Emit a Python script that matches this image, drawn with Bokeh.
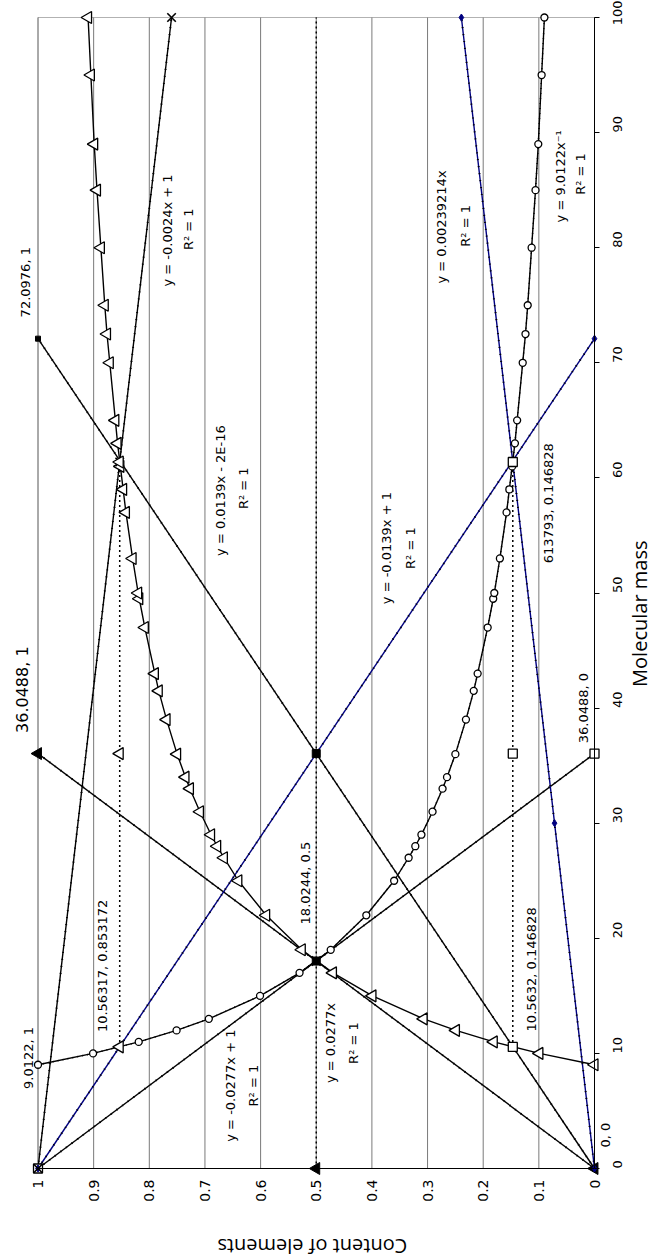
import math
from bokeh.plotting import figure
from bokeh.models import Range1d, FixedTicker, Label, LinearAxis, BoxAnnotation
from bokeh.embed import file_html
from bokeh.resources import INLINE

# ---------------- data (original chart: x = molecular mass, y = content) ----------------
mass_curve = [9.0122, 10, 11, 12, 13, 15, 17, 19, 22, 25, 27, 28, 29, 31, 33, 34, 36, 39,
              41.5, 43, 47, 49.5, 50, 53, 57, 59, 61, 63, 65, 70, 72.5, 75, 80, 85, 89, 95, 100]
content_circles = [1.0, 0.901, 0.819, 0.751, 0.693, 0.601, 0.530, 0.474, 0.410, 0.360, 0.334,
                   0.322, 0.311, 0.291, 0.273, 0.265, 0.250, 0.231, 0.217, 0.210, 0.192, 0.182,
                   0.180, 0.170, 0.158, 0.153, 0.148, 0.143, 0.139, 0.129, 0.124, 0.120, 0.113,
                   0.106, 0.101, 0.095, 0.090]
content_triangles = [0.0, 0.099, 0.181, 0.249, 0.307, 0.399, 0.470, 0.526, 0.590, 0.640, 0.666,
                     0.678, 0.689, 0.709, 0.727, 0.735, 0.750, 0.769, 0.783, 0.790, 0.808, 0.818,
                     0.820, 0.830, 0.842, 0.847, 0.852, 0.857, 0.861, 0.871, 0.876, 0.880, 0.887,
                     0.894, 0.899, 0.905, 0.910]

l0277_up_mass = [0, 36.0488]
l0277_up_c = [0, 1]
l0277_dn_mass = [0, 36.0488]
l0277_dn_c = [1, 0]
l0139_up_mass = [0, 72.0976]
l0139_up_c = [0, 1]
l0139_dn_mass = [0, 72.0976]
l0139_dn_c = [1, 0]
l0024_dn_mass = [0, 61.3793, 100]
l0024_dn_c = [1, 0.853172, 0.76]
l0024_up_mass = [0, 30, 100]
l0024_up_c = [0, 0.0718, 0.2392]
half_mass = [0, 18.0244, 36.0488, 100]
half_c = [0.5, 0.5, 0.5, 0.5]
upper_mass = [10.56317, 36.0488, 61.3793]
upper_c = [0.853172, 0.853172, 0.853172]
lower_mass = [10.5632, 36.0488, 61.3793]
lower_c = [0.146828, 0.146828, 0.146828]

content_ticks = [0, 0.1, 0.2, 0.3, 0.4, 0.5, 0.6, 0.7, 0.8, 0.9, 1]
mass_ticks = [0, 10, 20, 30, 40, 50, 60, 70, 80, 90, 100]

BLACK = "black"
NAVY = "#000080"
FONT = "DejaVu Sans"
TITLE_FONT = "Open Sans"

# ---------------- layout (chart rotated 90 deg counter-clockwise) ----------------
W, H = 653, 1259
# plot area in canvas pixels: content 1 -> 37.5, content 0 -> 594 ; mass 100 -> 17, mass 0 -> 1168
PX_C = 556.5          # pixels per unit content
PX_M = 11.51          # pixels per unit mass
c_left = 1 + 37.5 / PX_C
c_right = c_left - W / PX_C
m_top = 100 + 17 / PX_M
m_bot = m_top - H / PX_M

p = figure(width=W, height=H, x_range=Range1d(c_left, c_right), y_range=Range1d(m_bot, m_top),
           x_axis_location=None, y_axis_location=None, title=None,
           output_backend="svg", toolbar_location=None,
           min_border=0, min_border_left=0, min_border_right=0,
           min_border_top=0, min_border_bottom=0)
p.background_fill_color = "white"
p.border_fill_color = "white"
p.outline_line_color = None
p.xgrid.grid_line_color = None
p.ygrid.grid_line_color = None

# grid lines (original horizontal grid) within the plot area
p.segment(x0=content_ticks, y0=[0] * len(content_ticks), x1=content_ticks,
          y1=[100] * len(content_ticks), line_color="#7a7a7a", line_width=1)

# plot-area border
p.add_layout(BoxAnnotation(left=1, right=0, bottom=0, top=100, fill_alpha=0,
                           line_color=BLACK, line_width=1, level="underlay"))

xa = LinearAxis(fixed_location=0, bounds=(0, 1), ticker=FixedTicker(ticks=content_ticks))
xa.major_label_overrides = {0: "0", 1: "1"}
xa.major_label_orientation = math.pi / 2
xa.major_tick_out = 0
xa.major_tick_in = 0
xa.minor_tick_line_color = None
xa.axis_line_color = BLACK
xa.major_label_standoff = 11
xa.major_label_text_font = FONT
xa.major_label_text_font_size = "14px"
xa.major_label_text_color = BLACK
p.add_layout(xa, "below")

ya = LinearAxis(fixed_location=0, bounds=(0, 100), ticker=FixedTicker(ticks=mass_ticks))
ya.major_label_orientation = math.pi / 2
ya.major_tick_out = 5
ya.major_tick_in = 0
ya.major_tick_line_color = BLACK
ya.minor_tick_line_color = None
ya.axis_line_color = BLACK
ya.major_label_standoff = 18
ya.major_label_text_font = FONT
ya.major_label_text_font_size = "13px"
ya.major_label_text_color = BLACK
p.add_layout(ya, "right")


def trend(xs, ys, color=BLACK):
    p.line(xs, ys, line_color=color, line_width=1.4)
    p.line(xs, ys, line_color=BLACK, line_width=2, line_dash="1 6")


# straight lines
trend(l0277_up_c, l0277_up_mass)
trend(l0277_dn_c, l0277_dn_mass)
trend(l0139_up_c, l0139_up_mass)
trend(l0139_dn_c, l0139_dn_mass, NAVY)
trend(l0024_dn_c, l0024_dn_mass)
trend(l0024_up_c, l0024_up_mass, NAVY)

# dotted horizontal (original) lines
for cs, ms in ((half_c, half_mass), (upper_c, upper_mass), (lower_c, lower_mass)):
    p.line(cs, ms, line_color=BLACK, line_width=1.5, line_dash="2 3")

# curves
p.line(content_circles, mass_curve, line_color=BLACK, line_width=1.4)
p.line(content_circles, mass_curve, line_color=BLACK, line_width=1.5, line_dash="1 4")
p.line(content_triangles, mass_curve, line_color=BLACK, line_width=1.4)

# markers
p.scatter(content_circles, mass_curve, marker="circle", size=7, fill_color="white",
          line_color=BLACK, line_width=1.3)
p.scatter(content_triangles, mass_curve, marker="triangle", angle=math.pi / 2, size=12,
          fill_color="white", line_color=BLACK, line_width=1.3)
p.scatter(l0277_up_c, l0277_up_mass, marker="triangle", angle=math.pi / 2, size=12,
          fill_color=BLACK, line_color=BLACK)
p.scatter(l0277_dn_c, l0277_dn_mass, marker="square", size=9, fill_color="white",
          line_color=BLACK, line_width=1.3)
p.scatter(l0139_up_c, l0139_up_mass, marker="square", size=5, fill_color=BLACK, line_color=BLACK)
p.scatter(l0139_dn_c, l0139_dn_mass, marker="diamond", size=7, fill_color=NAVY, line_color=NAVY)
p.scatter(l0024_up_c, l0024_up_mass, marker="diamond", size=7, fill_color=NAVY, line_color=NAVY)
p.scatter(l0024_dn_c, l0024_dn_mass, marker="x", size=12, line_color=BLACK, line_width=1.6)
p.scatter(half_c[:1], half_mass[:1], marker="triangle", angle=math.pi / 2, size=12,
          fill_color=BLACK, line_color=BLACK)
p.scatter(half_c[1:3], half_mass[1:3], marker="square", size=8, fill_color=BLACK, line_color=BLACK)
p.scatter(half_c[1:2], half_mass[1:2], marker="x", size=13, line_color=BLACK, line_width=2)
p.scatter(upper_c, upper_mass, marker="triangle", angle=math.pi / 2, size=12,
          fill_color="white", line_color=BLACK, line_width=1.3)
p.scatter(lower_c, lower_mass, marker="square", size=9, fill_color="white",
          line_color=BLACK, line_width=1.3)

# ---------------- texts ----------------
labels = [
    ("9.0122, 1", 1.017, 9.6, 13),
    ("10.56317, 0.853172", 0.884, 17.6, 13),
    ("18.0244, 0.5", 0.519, 24.8, 13),
    ("y = 0.0277x", 0.474, 10.9, 13),
    ("R\u00b2 = 1", 0.433, 10.9, 13),
    ("y = -0.0277x + 1", 0.654, 7.2, 13),
    ("R\u00b2 = 1", 0.613, 7.2, 13),
    ("10.5632, 0.146828", 0.113, 17.3, 13),
    ("36.0488, 0", 0.020, 40.0, 13),
    ("0, 0", -0.0197, 2.9, 13),
    ("36.0488, 1", 1.028, 41.6, 16),
    ("y = 0.0139x - 2E-16", 0.672, 58.9, 13),
    ("R\u00b2 = 1", 0.631, 59.1, 13),
    ("72.0976, 1", 1.022, 77.0, 13),
    ("y = -0.0024x + 1", 0.767, 81.5, 13),
    ("R\u00b2 = 1", 0.730, 81.6, 13),
    ("y = -0.0139x + 1", 0.374, 53.9, 13),
    ("R\u00b2 = 1", 0.331, 53.9, 13),
    ("613793, 0.146828", 0.083, 57.8, 13),
    ("y = 0.00239214x", 0.275, 81.8, 13),
    ("R\u00b2 = 1", 0.232, 81.9, 13),
    ("y = 9.0122x\u207b\u00b9", 0.061, 86.2, 13),
    ("R\u00b2 = 1", 0.025, 86.4, 13),
]
for text, cx, my, fs in labels:
    p.add_layout(Label(x=cx, y=my, text=text, angle=math.pi / 2, text_align="center",
                       text_baseline="middle", text_font=FONT, text_font_size=f"{fs}px",
                       text_color=BLACK))

p.add_layout(Label(x=-0.0809, y=48.2, text="Molecular mass", angle=math.pi / 2,
                   text_align="center", text_baseline="middle", text_font=TITLE_FONT,
                   text_font_size="20px", text_color=BLACK))
p.add_layout(Label(x=0.507, y=-6.75, text="Content of elements", angle=math.pi,
                   text_align="center", text_baseline="middle", text_font=TITLE_FONT,
                   text_font_size="20px", text_color=BLACK))

open("out.html", "w").write(file_html(p, INLINE))
